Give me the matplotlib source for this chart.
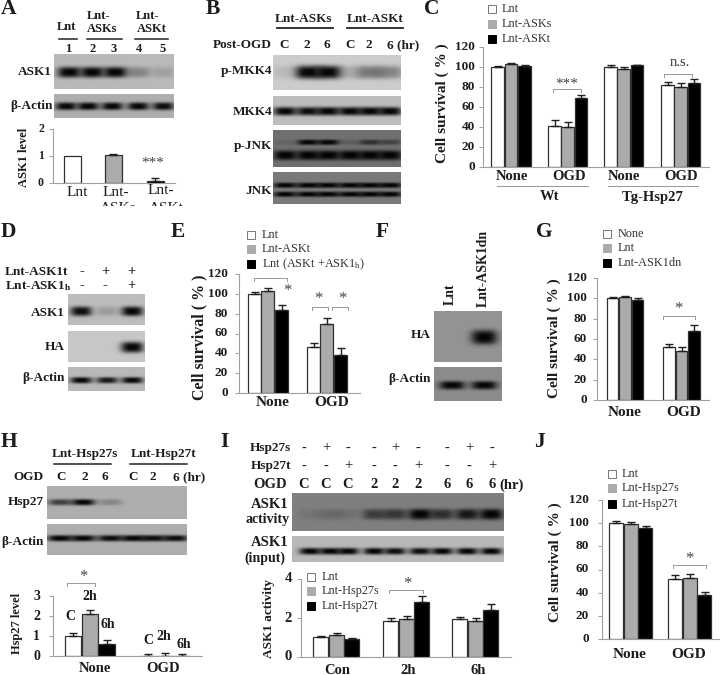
import numpy as np
import matplotlib
matplotlib.use('Agg')
import matplotlib.pyplot as plt
from matplotlib.patches import Rectangle

plt.rcParams['font.family'] = ['Liberation Serif', 'DejaVu Serif']
plt.rcParams['mathtext.default'] = 'regular'

# bar values (upper error in *_err)
a_vals = [1.0, 1.05, 0.08]
a_err = [0.0, 0.03, 0.12]
c_vals = [[100, 103, 101], [41, 40, 69], [100, 98, 102], [82, 80, 84]]
c_err = [[1, 1, 1], [6, 5, 3], [2, 2, 0.5], [3, 4, 4]]
e_vals = [[100, 103, 84], [46, 70, 38]]
e_err = [[2, 3, 5], [4, 6, 7]]
g_vals = [[100, 101, 98], [52, 48, 68]]
g_err = [[1, 1, 2], [3, 4, 5.5]]
h_vals = [[1.0, 2.1, 0.6], [0.02, 0.02, 0.02]]
h_err = [[0.13, 0.2, 0.2], [0.08, 0.12, 0.08]]
i_vals = [[1.03, 1.13, 0.93], [1.85, 1.95, 2.8], [1.95, 1.85, 2.4]]
i_err = [[0.03, 0.1, 0.03], [0.15, 0.15, 0.33], [0.1, 0.15, 0.3]]
j_vals = [[100, 99, 96], [52, 53, 38]]
j_err = [[1.5, 2, 1.5], [3, 3, 2.5]]

# band strength per lane in the blots
a_ask1 = [1, 1, 1, 0.25, 0.12]
a_actin = [0.9, 0.85, 0.85, 0.9, 0.8]
b_pmkk4 = [0.08, 0.85, 0.95, 0.15, 0.35, 0.3]
b_mkk4 = [0.85, 0.8, 0.85, 0.9, 0.9, 0.85]
b_pjnk_up = [0.1, 0.85, 0.85, 0.15, 0.5, 0.35]
b_pjnk_low = [1, 1, 1, 1, 1, 1]
b_jnk = [1, 1, 1, 1, 1, 1]
d_ask1 = [0.8, 0.15, 1]
d_ha = [0, 0, 1]
d_actin = [0.85, 0.75, 0.85]
f_ha = [0, 0.9]
f_actin = [0.9, 0.9]
h_hsp = [0.55, 1, 0.2, 0, 0, 0]
h_actin = [0.95, 0.9, 0.8, 0.9, 0.8, 0.8]
i_act = [0.08, 0.15, 0.1, 0.45, 0.5, 1, 0.55, 0.7, 0.9]
i_input = [0.85, 0.85, 0.85, 0.85, 0.8, 0.8, 0.85, 0.85, 0.85]

i_row1 = ['-', '+', '-', '-', '+', '-', '-', '+', '-']
i_row2 = ['-', '-', '+', '-', '-', '+', '-', '-', '+']
i_row3 = ['C', 'C', 'C', '2', '2', '2', '6', '6', '6']

BAR_COLORS = ['white', '#ababab', 'black']
TXT = '#1c1c1c'
W, H = 720, 675

fig = plt.figure(figsize=(7.2, 6.75), dpi=100)
ov = fig.add_axes([0, 0, 1, 1], zorder=5)
ov.set_xlim(0, W)
ov.set_ylim(H, 0)
ov.axis('off')
ov.patch.set_alpha(0)


def t(x, y, s, size=9.5, bold=True, ha='center', rot=0, color=TXT):
    return ov.text(x, y, s, fontsize=size, fontweight='bold' if bold else 'normal', ha=ha, va='center',
                   rotation=rot, rotation_mode='anchor', color=color)


def blot(x0, y0, x1, y1, bg, rows):
    # rows: (lane x, band y, half width, half height, strengths)
    xs, ys = np.meshgrid(np.arange(x0, x1, 0.5), np.arange(y0, y1, 0.5))
    img = np.full(xs.shape, float(bg))
    for lanes, cy, hw, hh, vals in rows:
        for cx, v in zip(lanes, vals):
            d = np.exp(-(np.abs(xs - cx) / (hw * 1.08)) ** 3 - (np.abs(ys - cy) / (hh * 1.2)) ** 3)
            img = img * (1 - 0.97 * min(v * 1.2, 1) * d)
    ov.imshow(img, extent=(x0, x1, y1, y0), cmap='gray', vmin=0, vmax=1, aspect='auto',
              interpolation='bilinear', zorder=1)
    ov.set_xlim(0, W)
    ov.set_ylim(H, 0)


def chart(x0, x1, y_base, y_top, ymax, ticks, starts, width, vals, err, tick_x, tick_size=9.5, tick_bold=True):
    ax = fig.add_axes([x0 / W, 1 - y_base / H, (x1 - x0) / W, (y_base - y_top) / H], zorder=2)
    ax.patch.set_alpha(0)
    ax.set_xlim(x0, x1)
    ax.set_ylim(0, ymax)
    for s in ['top', 'right']:
        ax.spines[s].set_visible(False)
    for s in ['left', 'bottom']:
        ax.spines[s].set_color('#a0a0a0')
        ax.spines[s].set_linewidth(0.8)
    ax.set_xticks([])
    ax.set_yticks(ticks)
    ax.set_yticklabels([])
    ax.tick_params(axis='y', length=3, width=0.7, color='#a0a0a0')
    for start, gv, ge in zip(starts, vals, err):
        n = len(gv)
        for k in range(n):
            c = BAR_COLORS[k] if n == 3 else 'white'
            xx = start + k * width
            ax.bar(xx, gv[k], width=width - 0.6, align='edge', color=c, edgecolor='#303030', linewidth=0.9)
            if ge[k] > 0:
                ax.errorbar(xx + width / 2, gv[k], yerr=[[0], [ge[k]]], color='#202020', capsize=3,
                            elinewidth=1, capthick=1)
    span = (y_base - y_top) / ymax
    for tk in ticks:
        t(tick_x, y_base - tk * span, str(tk), tick_size, tick_bold, ha='right')
    return ax


def legend(x, y_list, names, text_x, size=8.8):
    for yy, c, name in zip(y_list, BAR_COLORS, names):
        ec = '#777777' if c == 'white' else c
        ov.add_patch(Rectangle((x - 4, yy - 4), 8, 8, facecolor=c, edgecolor=ec, linewidth=0.7, zorder=3))
        t(text_x, yy, name, size, False, ha='left', color='#333333')


def bracket(x0, x1, y, dn=3):
    ov.plot([x0, x0, x1, x1], [y + dn, y, y, y + dn], color='#999999', lw=0.7, zorder=3)


def line(x0, x1, y, color='#222222', lw=1.1):
    ov.plot([x0, x1], [y, y], color=color, lw=lw, zorder=3)


# panel letters
for x, y, s in [(9, 9, 'A'), (213, 9, 'B'), (432, 9, 'C'), (8, 232, 'D'), (178, 232, 'E'), (382, 232, 'F'),
                (544, 232, 'G'), (9, 442, 'H'), (224, 442, 'I'), (539, 442, 'J')]:
    t(x, y, s, 15.5)

# A
blot(54, 54, 174, 89, 0.73, [([69, 92, 115, 138, 163], 72, 11, 4.5, a_ask1)])
blot(54, 94, 174, 118, 0.68, [([66, 88, 112, 138, 163], 106, 10, 3.2, a_actin)])
t(66, 27, 'Lnt', 9)
t(99, 16, 'Lnt-', 9)
t(102, 29, 'ASKs', 9)
t(148, 16, 'Lnt-', 9)
t(152, 29, 'ASKt', 9)
line(59, 77, 39)
line(87, 122, 39)
line(135, 168, 39)
for x, s in zip([68, 93, 114, 139, 163], '12345'):
    t(x, 49, s, 9)
t(52, 72, 'ASK1', 9.5, ha='right')
t(53, 106, '\u03b2-Actin', 9.5, ha='right')
chart(53, 175, 183, 129, 2, [0, 1, 2], [], 16, [], [], 44, 8.5)
ax_a = fig.axes[-1]
for x, v, er, c in zip([64, 105, 147], a_vals, a_err, BAR_COLORS):
    ax_a.bar(x, v, width=16.5, align='edge', color=c, edgecolor='#303030', linewidth=0.9)
    if er > 0:
        ax_a.errorbar(x + 8, v, yerr=[[0], [er]], color='#202020', capsize=3, elinewidth=1, capthick=1)
t(24, 157, 'ASK1 level', 9, rot=90)
t(77, 193, 'Lnt', 11, False)
t(116, 192, 'Lnt-', 11, False)
t(161, 191, 'Lnt-', 11, False)
# the source image cuts these two labels off
clip = Rectangle((0, 0), W, 206, transform=ov.transData)
for x, s in [(118, 'ASKs'), (166, 'ASKt')]:
    lab = t(x, 209, s, 11, False)
    lab.set_clip_path(clip)
    lab.set_clip_on(True)
t(153, 163, '***', 11, False, color='#444444')

# B
b_lanes = [285, 308, 328, 350, 370, 390]
blot(273, 55, 401, 90, 0.80, [(b_lanes, 72, 12, 5.5, b_pmkk4)])
blot(273, 96, 401, 125, 0.74, [(b_lanes, 111, 11, 3.5, b_mkk4)])
blot(273, 130, 401, 167, 0.44, [(b_lanes, 142, 10, 2.2, b_pjnk_up), (b_lanes, 155, 11, 4, b_pjnk_low)])
blot(273, 172, 401, 204, 0.48, [(b_lanes, 185, 11, 2.2, b_jnk), (b_lanes, 194, 11, 2.2, b_jnk)])
t(303, 19, 'Lnt-ASKs', 9.5)
t(375, 19, 'Lnt-ASKt', 9.5)
line(277, 333, 28, lw=1.3)
line(347, 403, 28, lw=1.3)
t(272, 45, 'Post-OGD', 9.5, ha='right')
for x, s in [(284, 'C'), (307, '2'), (327, '6'), (350, 'C'), (369, '2'), (403, '6 (hr)')]:
    t(x, 45, s, 9.5)
for y, s in [(71, 'p-MKK4'), (112, 'MKK4'), (146, 'p-JNK'), (191, 'JNK')]:
    t(272, y, s, 9.5, ha='right')

# C
chart(483, 709, 167, 47, 120, [0, 20, 40, 60, 80, 100, 120], [491.5, 548, 604, 661], 13.3, c_vals, c_err, 475)
t(442, 103, 'Cell survival ( % )', 11, rot=90)
legend(492, [9, 24, 39], ['Lnt', 'Lnt-ASKs', 'Lnt-ASKt'], 502)
t(567, 84, '***', 11, False, color='#444444')
bracket(553, 581, 89)
t(680, 63, 'n.s.', 10.5, False, color='#333333')
bracket(664, 692, 74)
for x, s in [(512, 'None'), (569, 'OGD'), (624, 'None'), (681, 'OGD')]:
    t(x, 177, s, 10.5)
line(497, 588, 186, '#999999', 0.7)
line(608, 698, 186, '#999999', 0.7)
t(550, 197, 'Wt', 10.5)
t(653, 197, 'Tg-Hsp27', 10.5)

# D
d_lanes = [81, 107, 132]
blot(68, 294, 145, 325, 0.74, [(d_lanes, 311, 10, 4, d_ask1)])
blot(68, 331, 145, 362, 0.78, [(d_lanes, 347, 10.5, 4.5, d_ha)])
blot(68, 367, 145, 391, 0.72, [(d_lanes, 380, 10, 2.6, d_actin)])
t(5, 272, 'Lnt-ASK1t', 9.5, ha='left')
t(5, 286, 'Lnt-ASK1$_{h}$', 9.5, ha='left')
for x, s1, s2 in zip([82, 105, 131], '-++', '--+'):
    t(x, 272, s1, 10.5)
    t(x, 286, s2, 10.5)
t(65, 313, 'ASK1', 9.5, ha='right')
t(65, 347, 'HA', 9.5, ha='right')
t(65, 378, '\u03b2-Actin', 9.5, ha='right')

# E
chart(239, 360, 393, 274, 120, [0, 20, 40, 60, 80, 100, 120], [248, 307], 13.4, e_vals, e_err, 228)
t(199, 337, 'Cell survival ( % )', 11.5, rot=90)
legend(251, [235, 249, 264], ['Lnt', 'Lnt-ASKt', 'Lnt (ASKt +ASK1$_{h}$)'], 262)
bracket(254, 287, 278)
t(287, 291, '*', 12, False, color='#444444')
bracket(312, 328, 307)
bracket(332, 348, 307)
t(318, 299, '*', 12, False, color='#444444')
t(342, 299, '*', 12, False, color='#444444')
t(273, 403, 'None', 11)
t(332, 403, 'OGD', 11)

# F
blot(434, 311, 502, 362, 0.58, [([452, 484], 337, 12, 6, f_ha)])
blot(434, 367, 502, 401, 0.55, [([452, 484], 385, 12, 3.5, f_actin)])
t(450, 305, 'Lnt', 10, ha='left', rot=90)
t(483, 307, 'Lnt-ASK1dn', 10, ha='left', rot=90)
t(431, 335, 'HA', 9.5, ha='right')
t(431, 379, '\u03b2-Actin', 9.5, ha='right')

# G
chart(597, 709, 400, 278, 120, [0, 20, 40, 60, 80, 100, 120], [606.5, 663], 12.5, g_vals, g_err, 587)
t(554, 338, 'Cell survival ( % )', 11, rot=90)
legend(607, [234, 248, 263], ['None', 'Lnt', 'Lnt-ASK1dn'], 618)
bracket(663, 695, 316)
t(678, 309, '*', 12, False, color='#444444')
t(625, 413, 'None', 11)
t(684, 413, 'OGD', 11)

# H
h_lanes = [60, 83, 110, 133, 153, 175]
blot(47, 486, 187, 519, 0.68, [(h_lanes, 502, 11, 2.6, h_hsp)])
blot(47, 524, 187, 555, 0.68, [(h_lanes, 538, 12, 2.6, h_actin)])
t(85, 454, 'Lnt-Hsp27s', 9.5)
t(164, 454, 'Lnt-Hsp27t', 9.5)
line(54, 111, 464)
line(130, 187, 464)
t(43, 477, 'OGD', 9.5, ha='right')
for x, s in [(61, 'C'), (85, '2'), (105, '6'), (133, 'C'), (153, '2'), (189, '6 (hr)')]:
    t(x, 477, s, 9.5)
t(44, 502, 'Hsp27', 9.5, ha='right')
t(44, 542, '\u03b2-Actin', 9.5, ha='right')
chart(53, 202, 656, 596, 3, [0, 1, 2, 3], [65, 140], 16.7, h_vals, h_err, 40, 10)
t(17, 623, 'Hsp27 level', 9, rot=90)
bracket(67, 95, 583)
t(83, 577, '*', 12, False, color='#444444')
for x, y, s in [(70, 617, 'C'), (90, 597, '2h'), (108, 625, '6h'), (148, 640, 'C'), (164, 636, '2h'), (184, 644, '6h')]:
    t(x, y, s, 10)
t(95, 668, 'None', 10.5)
t(163, 668, 'OGD', 10.5)

# I
i_lanes = [310, 330, 348, 374, 395, 420, 442, 467, 491]
i_cols = [304, 326, 348, 374, 395, 418, 447, 469, 492]
blot(292, 493, 504, 531, 0.50, [(i_lanes, 514, 11, 4.5, i_act)])
blot(292, 536, 504, 562, 0.72, [(i_lanes, 551, 10, 2.8, i_input)])
t(291, 448, 'Hsp27s', 9.5, ha='right')
t(291, 466, 'Hsp27t', 9.5, ha='right')
t(287, 485, 'OGD', 10.5, ha='right')
for x, s1, s2, s3 in zip(i_cols, i_row1, i_row2, i_row3):
    t(x, 448, s1, 10.5, False)
    t(x, 466, s2, 10.5, False)
    t(x, 485, s3, 10.5)
t(499, 485, '(hr)', 10.5, ha='left')
t(270, 504, 'ASK1', 10.5)
t(268, 519, 'activity', 10)
t(270, 543, 'ASK1', 10.5)
t(265, 558, '(input)', 10)
chart(301, 511, 657, 579, 4, [0, 2, 4], [313, 383, 452], 15.7, i_vals, i_err, 292, 10.5)
t(269, 619, 'ASK1 activity', 9.5, rot=90)
legend(311, [577, 591, 606], ['Lnt', 'Lnt-Hsp27s', 'Lnt-Hsp27t'], 322)
bracket(389, 423, 590)
t(407, 584, '*', 12, False, color='#444444')
t(337, 670, 'Con', 10.5)
t(408, 670, '2h', 10.5)
t(478, 670, '6h', 10.5)

# J
chart(602, 720, 639, 500, 120, [0, 20, 40, 60, 80, 100, 120], [609, 668], 14.6, j_vals, j_err, 589)
t(555, 562, 'Cell survival ( % )', 11, rot=90)
legend(612, [474, 488, 504], ['Lnt', 'Lnt-Hsp27s', 'Lnt-Hsp27t'], 622)
bracket(673, 706, 565)
t(689, 559, '*', 12, False, color='#444444')
t(630, 655, 'None', 11)
t(689, 655, 'OGD', 11)

fig.savefig('out.png', dpi=100)
